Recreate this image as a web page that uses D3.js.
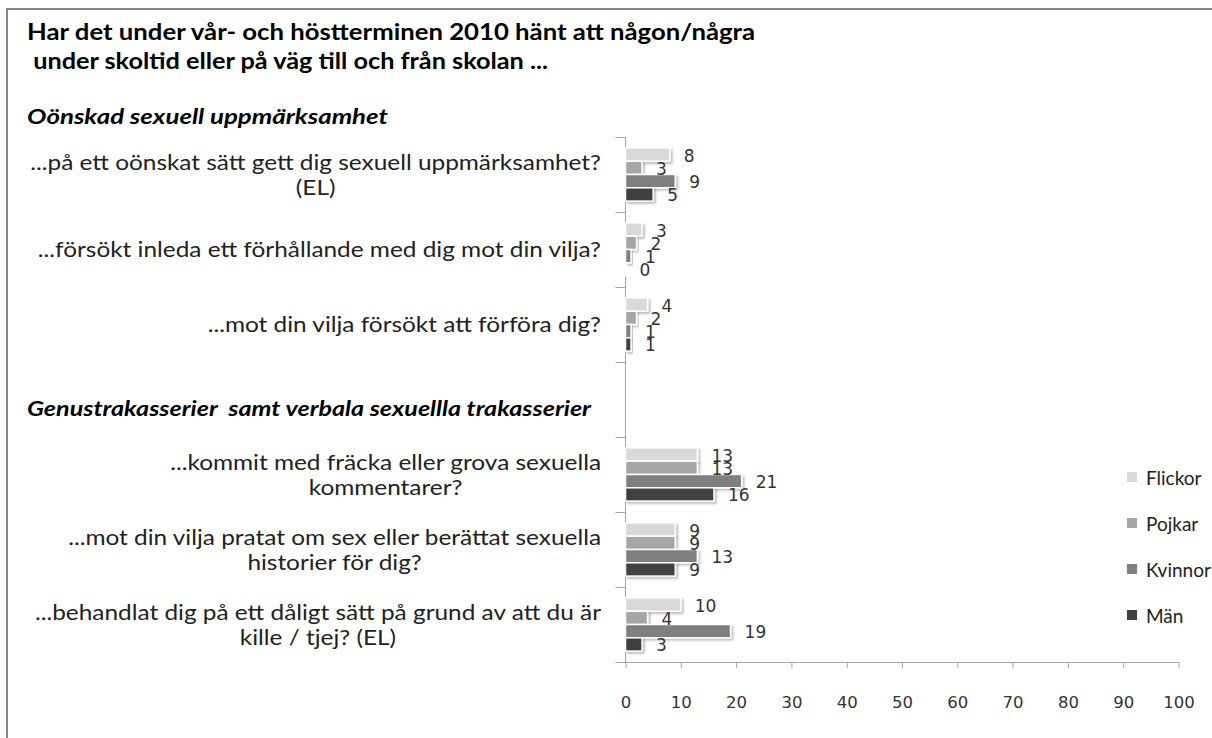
<!DOCTYPE html>
<html>
<head>
<meta charset="utf-8">
<script src="https://cdn.jsdelivr.net/npm/d3@7"></script>
<style>
  html, body { margin: 0; padding: 0; background: #fff; }
  svg { display: block; }
</style>
</head>
<body>
<svg id="chart" width="1212" height="738"></svg>
<script>
// ---- data ----
const titleLines = [
  "Har det under vår- och höstterminen 2010 hänt att någon/några",
  " under skoltid eller på väg till och från skolan ..."
];
const sectionHeaders = [
  "Oönskad sexuell uppmärksamhet",
  "Genustrakasserier  samt verbala sexuellla trakasserier"
];
const categories = ["q1", "q2", "q3", "gap", "q4", "q5", "q6"];
const categoryLabels = [
  ["...på ett oönskat sätt gett dig sexuell uppmärksamhet?", "(EL)"],
  ["...försökt inleda ett förhållande med dig mot din vilja?"],
  ["...mot din vilja försökt att förföra dig?"],
  [],
  ["...kommit med fräcka eller grova sexuella", "kommentarer?"],
  ["...mot din vilja pratat om sex eller berättat sexuella", "historier för dig?"],
  ["...behandlat dig på ett dåligt sätt på grund av att du är", "kille / tjej? (EL)"]
];
const seriesNames = ["Flickor", "Pojkar", "Kvinnor", "Män"];
const flickor = [8, 3, 4, null, 13, 9, 10];
const pojkar  = [3, 2, 2, null, 13, 9, 4];
const kvinnor = [9, 1, 1, null, 21, 13, 19];
const man     = [5, 0, 1, null, 16, 9, 3];
const xTicks = [0, 10, 20, 30, 40, 50, 60, 70, 80, 90, 100];

// ---- styles ----
const colors = ["#d9d9d9", "#a6a6a6", "#7f7f7f", "#404040"];
const seriesValues = [flickor, pojkar, kvinnor, man];
const sansFont = "Lato, 'Open Sans', sans-serif";
const numFont = "'DejaVu Sans', Verdana, sans-serif";

const svg = d3.select("#chart");

// drop shadow filter
const defs = svg.append("defs");
const f = defs.append("filter").attr("id", "shadow")
  .attr("x", "-10%").attr("y", "-30%").attr("width", "130%").attr("height", "170%");
f.append("feDropShadow").attr("dx", 2).attr("dy", 2).attr("stdDeviation", 1)
  .attr("flood-color", "#000").attr("flood-opacity", 0.25);

// frame
svg.append("rect").attr("x", 7).attr("y", 9).attr("width", 1220).attr("height", 740)
  .attr("fill", "none").attr("stroke", "#858585").attr("stroke-width", 2);

// title (stretched to the wide lettering of the original)
const titleWidths = [728, 521];
svg.append("g").selectAll("text").data(titleLines).join("text")
  .attr("x", 27)
  .attr("y", (d, i) => 40 + i * 29)
  .attr("font-family", sansFont).attr("font-weight", "bold").attr("font-size", 22)
  .attr("fill", "#000").attr("xml:space", "preserve").style("white-space", "pre")
  .attr("textLength", (d, i) => titleWidths[i])
  .attr("lengthAdjust", "spacingAndGlyphs")
  .text(d => d);

// section headers
const headerPos = [[27, 124, 361], [27, 416, 564]];
sectionHeaders.forEach((h, i) => {
  svg.append("text").attr("x", headerPos[i][0]).attr("y", headerPos[i][1])
    .attr("font-family", sansFont).attr("font-weight", "bold").attr("font-style", "italic")
    .attr("font-size", 20).attr("fill", "#000")
    .attr("xml:space", "preserve").style("white-space", "pre")
    .attr("textLength", headerPos[i][2]).attr("lengthAdjust", "spacingAndGlyphs")
    .text(h);
});

// scales
const x = d3.scaleLinear().domain([0, 100]).range([625.5, 1178.5]);
const y0 = d3.scaleBand().domain(categories).range([137, 662]).padding(0);
const y1 = d3.scaleBand().domain(seriesNames).range([0, y0.bandwidth()]).paddingOuter(0.82).paddingInner(0);

// x axis
const xAxis = svg.append("g").attr("transform", `translate(0,${y0.range()[1]})`)
  .call(d3.axisBottom(x).tickValues(xTicks).tickSize(6).tickPadding(28).tickSizeOuter(0));
xAxis.select(".domain").attr("stroke", "#a6a6a6").attr("d", `M${x(0) - 10},0.5H${x(100)}`);
xAxis.selectAll(".tick line").attr("stroke", "#a6a6a6");
xAxis.selectAll(".tick text").attr("font-family", numFont)
  .attr("font-size", 16.5).attr("fill", "#333");

// y axis (category separators)
const yAxisG = svg.append("g");
yAxisG.append("line").attr("x1", x(0)).attr("x2", x(0))
  .attr("y1", y0.range()[0]).attr("y2", y0.range()[1]).attr("stroke", "#a6a6a6");
yAxisG.selectAll("line.tk").data(categories.map(c => y0(c))).join("line").attr("class", "tk")
  .attr("x1", x(0) - 10).attr("x2", x(0)).attr("y1", d => d + 0.5).attr("y2", d => d + 0.5)
  .attr("stroke", "#a6a6a6");

// category labels (right-aligned block, centred lines, horizontally stretched)
const labelRight = 601;
const labelStretch = 1.19;
categories.forEach((c, ci) => {
  const lines = categoryLabels[ci];
  if (!lines.length) return;
  const lh = 25;
  const cy = y0(c) + y0.bandwidth() / 2;
  const g = svg.append("g").attr("transform", `translate(${labelRight},0) scale(${labelStretch},1)`);
  const texts = g.selectAll("text").data(lines).join("text")
    .attr("font-family", sansFont).attr("font-size", 20.5).attr("fill", "#222")
    .attr("text-anchor", "middle")
    .attr("dominant-baseline", "central")
    .attr("y", (d, i) => cy + (i - (lines.length - 1) / 2) * lh)
    .text(d => d);
  let maxW = 0;
  texts.each(function () { maxW = Math.max(maxW, this.getComputedTextLength()); });
  texts.attr("x", -maxW / 2);
});

// bars
const barData = [];
categories.forEach((c, ci) => {
  seriesNames.forEach((s, si) => {
    const v = seriesValues[si][ci];
    if (v !== null) barData.push({ c, s, si, v });
  });
});
svg.append("g").selectAll("rect").data(barData).join("rect")
  .attr("x", x(0))
  .attr("y", d => y0(d.c) + y1(d.s))
  .attr("width", d => Math.max(0.8, x(d.v) - x(0)))
  .attr("height", y1.bandwidth())
  .attr("fill", d => colors[d.si])
  .attr("stroke", "#fff").attr("stroke-width", 1.5)
  .attr("filter", "url(#shadow)");

// value labels
svg.append("g").selectAll("text").data(barData).join("text")
  .attr("x", d => x(d.v) + 14)
  .attr("y", d => y0(d.c) + y1(d.s) + y1.bandwidth() / 2 + 1)
  .attr("dominant-baseline", "central")
  .attr("font-family", numFont).attr("font-size", 17)
  .attr("fill", "#333")
  .text(d => d.v);

// legend
const legend = svg.append("g");
seriesNames.forEach((s, i) => {
  const ly = 477 + i * 46;
  legend.append("rect").attr("x", 1127).attr("y", ly - 5).attr("width", 10).attr("height", 10)
    .attr("fill", colors[i]);
  legend.append("text").attr("x", 1146).attr("y", ly).attr("dominant-baseline", "central")
    .attr("font-family", sansFont).attr("font-size", 19).attr("fill", "#222").text(s);
});
</script>
</body>
</html>
